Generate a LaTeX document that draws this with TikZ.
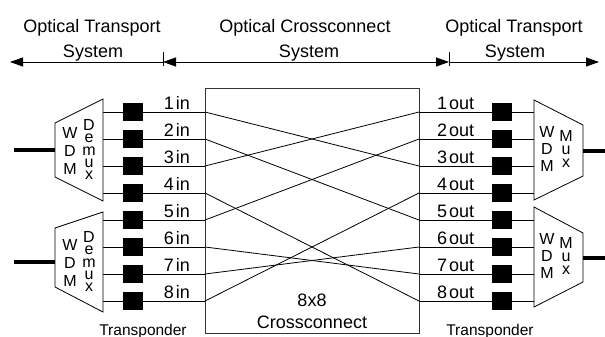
\documentclass[tikz,border=0pt]{standalone}
\usepackage{fontspec}
\setmainfont{Liberation Sans}
\usetikzlibrary{arrows.meta,positioning,calc}
\tikzset{
  >={Triangle[length=13pt,width=9pt]},
  wire/.style={line width=0.8pt,draw=black},
  fib/.style={line width=4pt},
  tsq/.style={fill=black,minimum width=20pt,minimum height=18pt,inner sep=0pt},
  xbox/.style={draw=black!80,line width=0.9pt,minimum width=214pt,minimum height=245pt,inner sep=0pt},
  lab/.style={font=\fontsize{18}{20}\selectfont,inner sep=0pt,anchor=base},
  wlab/.style={inner sep=0pt,anchor=north,align=center},
  tlab/.style={font=\fontsize{15.5}{16}\selectfont,inner sep=0pt,anchor=base},
}

\begin{document}
\begin{tikzpicture}[x=1pt,y=-1pt]
\useasboundingbox (0,0) rectangle (605,337);
% header
\coordinate (hL) at (10,62);
\coordinate (hA) at (163,62);
\coordinate (hB) at (449,62);
\coordinate (hR) at (599,62);
\node[lab] (ot1) at (92,33) {Optical Transport};
\node[lab] (ot1s) at (93,58) {System};
\node[lab] (oc) at (305,33) {Optical Crossconnect};
\node[lab] (ocs) at (309,58) {System};
\node[lab] (ot2) at (514,33) {Optical Transport};
\node[lab] (ot2s) at (515,58) {System};
\draw[wire,->] (hA) -- (hL);
\draw[wire,<->] (hA) -- (hB);
\draw[wire,->] (hB) -- (hR);
\draw[wire] ($(hA)+(0,-10)$) -- ($(hA)+(0,4)$);
\draw[wire] ($(hB)+(0,-10)$) -- ($(hB)+(0,4)$);

% crossconnect
\node[xbox] (xc) at (312,210.5) {};
\node[lab] (x8) at (312,306) {8x8};
\node[lab] (xcn) at (312,328) {Crossconnect};

% ports and transponders
\foreach \i in {1,...,8}{
  \pgfmathsetmacro\y{85+27*\i}
  \coordinate (dm\i) at (103,\y);
  \coordinate (in\i) at (205,\y);
  \coordinate (out\i) at (419,\y);
  \coordinate (mx\i) at (534,\y);
  \draw[wire] (dm\i) -- (in\i);
  \draw[wire] (out\i) -- (mx\i);
  \node[tsq] (tl\i) at (133,\y) {};
  \node[tsq] (tr\i) at (502,\y) {};
  \node[lab,anchor=base east] (li\i) at (190,\y-3) {\i\kern2pt in};
  \node[lab,anchor=base west] (lo\i) at (437,\y-3) {\i\kern2pt out};
}
\foreach \a/\b in {1/3,2/5,3/1,4/8,5/2,6/7,7/6,8/4}
  \draw[wire] (in\a) -- (out\b);
\node[tlab] (tpl) at (143,335) {Transponder};
\node[tlab] (tpr) at (490,335) {Transponder};

% demux
\draw[wire,fill=white] (103,99) -- (55,123) -- (55,177) -- (103,201) -- cycle;
\draw[wire,fill=white] (103,212) -- (55,228) -- (55,287) -- (103,312) -- cycle;
\coordinate (fa) at (14,150);
\coordinate (fb) at (14,262);
\draw[fib] (fa) -- (55,150);
\draw[fib] (fb) -- (55,262);
\foreach \cy/\k in {150/a,262/b}{
  \node[wlab,font=\fontsize{16}{18}\selectfont] (dw\k) at (70,\cy-22.5) {W\\D\\M};
  \node[wlab,font=\fontsize{16}{12.25}\selectfont] (dd\k) at (89,\cy-30.5) {D\\e\\m\\u\\x};
}

% mux
\draw[wire,fill=white] (534,100) -- (583,125) -- (583,176) -- (534,200) -- cycle;
\draw[wire,fill=white] (534,207) -- (583,233) -- (583,282) -- (534,307) -- cycle;
\coordinate (fc) at (605,151);
\coordinate (fd) at (605,258);
\draw[fib] (583,151) -- (fc);
\draw[fib] (583,258) -- (fd);
\foreach \cy/\k in {150/a,257/b}{
  \node[wlab,font=\fontsize{16}{17}\selectfont] (mw\k) at (547,\cy-23.5) {W\\D\\M};
  \node[wlab,font=\fontsize{16}{13}\selectfont] (mm\k) at (566,\cy-19.5) {M\\u\\x};
}
\end{tikzpicture}
\end{document}
